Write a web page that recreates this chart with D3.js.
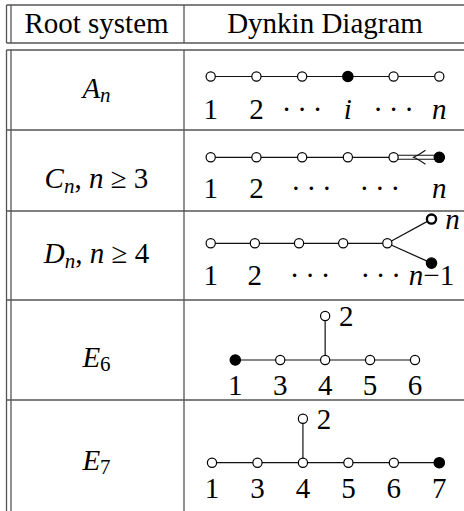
<!DOCTYPE html>
<html>
<head>
<meta charset="utf-8">
<script src="https://cdn.jsdelivr.net/npm/d3@7"></script>
<style>
  body { margin: 0; background: #fff; }
  svg { display: block; }
  text { font-family: "Liberation Serif", "Times New Roman", serif; fill: #000; white-space: pre; }
</style>
</head>
<body>
<div id="chart"></div>
<script>
// table headers
const headers = ["Root system", "Dynkin Diagram"]

// root system names as [text, style] pieces
const rowNames = [
  [["A", "it"], ["n", "subit"]],
  [["C", "it"], ["n", "subit"], [", "], ["n", "it"], [" ≥ 3"]],
  [["D", "it"], ["n", "subit"], [", "], ["n", "it"], [" ≥ 4"]],
  [["E", "it"], ["6", "sub"]],
  [["E", "it"], ["7", "sub"]]
]

const dots = "·\u2009·\u2009·"

// nodes: [slot, level]
const aNodes = [[0, 0], [1, 0], [2, 0], [3, 0], [4, 0], [5, 0]]
const aFilled = [3]
const aEdges = [[0, 1], [1, 2], [2, 3], [3, 4], [4, 5]]
const aLabels = [[0, "1"], [1, "2"], [2, dots], [3, "i"], [4, dots], [5, "n"]]

const cNodes = [[0, 0], [1, 0], [2, 0], [3, 0], [4, 0], [5, 0]]
const cFilled = [5]
const cEdges = [[0, 1], [1, 2], [2, 3], [3, 4], [4, 5, "double"]]
const cLabels = [[0, "1"], [1, "2"], [2.2, dots], [3.7, dots], [5, "n"]]

const dNodes = [[0, 0], [1, 0], [2, 0], [3, 0], [4, 0], [5, 1.1], [5, -0.9]]
const dFilled = [6]
const dBold = [5]
const dEdges = [[0, 1], [1, 2], [2, 3], [3, 4], [4, 5], [4, 6]]
const dLabels = [[0, "1"], [1, "2"], [2.25, dots], [3.85, dots], [5, "n−1"]]
const dSideLabels = [[5, "n"]]

// E6 nodes in Bourbaki order 1..6
const e6Nodes = [[0, 0], [2, 2], [1, 0], [2, 0], [3, 0], [4, 0]]
const e6Filled = [0]
const e6Edges = [[0, 2], [2, 3], [3, 4], [4, 5], [1, 3]]
const e6Labels = [[0, "1"], [1, "3"], [2, "4"], [3, "5"], [4, "6"]]
const e6SideLabels = [[1, "2"]]

// E7 nodes in Bourbaki order 1..7
const e7Nodes = [[0, 0], [2, 2], [1, 0], [2, 0], [3, 0], [4, 0], [5, 0]]
const e7Filled = [6]
const e7Edges = [[0, 2], [2, 3], [3, 4], [4, 5], [5, 6], [1, 3]]
const e7Labels = [[0, "1"], [1, "3"], [2, "4"], [3, "5"], [4, "6"], [5, "7"]]
const e7SideLabels = [[1, "2"]]

const diagrams = [
  { nodes: aNodes, filled: aFilled, bold: [], edges: aEdges, labels: aLabels, side: [] },
  { nodes: cNodes, filled: cFilled, bold: [], edges: cEdges, labels: cLabels, side: [] },
  { nodes: dNodes, filled: dFilled, bold: dBold, edges: dEdges, labels: dLabels, side: dSideLabels },
  { nodes: e6Nodes, filled: e6Filled, bold: [], edges: e6Edges, labels: e6Labels, side: e6SideLabels },
  { nodes: e7Nodes, filled: e7Filled, bold: [], edges: e7Edges, labels: e7Labels, side: e7SideLabels }
]

// layout
const W = 464, H = 511
const fontSize = 29, subSize = 21
const hRules = [5, 43, 50, 130, 211, 300, 400]
const vRules = [6.5, 11, 184]
const nameX = 96.5, diagX = 325
const nameBase = [97.5, 188, 263, 366.5, 469.5]
const chainY = [76.5, 157.3, 243.3, 360, 462.7]
const xRanges = [[210.7, 439.3], [210.7, 439.3], [210.7, 431.5], [235.3, 415], [212, 439.3]]
const slotMax = [5, 5, 5, 4, 5]
const labelDrop = [42, 41, 42, 35, 35]
const levelStep = 22
const r = 4.6

const svg = d3.select("#chart").append("svg")
  .attr("width", W)
  .attr("height", H)

// rules
svg.selectAll(".hrule")
  .data(hRules)
  .join("line")
  .attr("class", "hrule")
  .attr("x1", vRules[0]).attr("x2", W)
  .attr("y1", d => d).attr("y2", d => d)
  .attr("stroke", "#555").attr("stroke-width", 1.3)

vRules.forEach(x => {
  [[hRules[0], hRules[1]], [hRules[2], H]].forEach(([y1, y2]) => {
    svg.append("line")
      .attr("x1", x).attr("x2", x)
      .attr("y1", y1).attr("y2", y2)
      .attr("stroke", "#555").attr("stroke-width", 1.3)
  })
})

// headers
svg.selectAll(".header")
  .data(headers)
  .join("text")
  .attr("class", "header")
  .attr("x", (d, i) => i === 0 ? nameX : diagX)
  .attr("y", 33)
  .attr("text-anchor", "middle")
  .style("font-size", fontSize + "px")
  .text(d => d)

// text with italic / subscript pieces
const richText = (g, pieces, x, y) => {
  const t = g.append("text")
    .attr("x", x).attr("y", y)
    .attr("text-anchor", "middle")
    .style("font-size", fontSize + "px")
  let shift = 0
  pieces.forEach(([s, st]) => {
    const ts = t.append("tspan").text(s)
    const sub = st === "sub" || st === "subit"
    const want = sub ? 4.5 : 0
    if (want !== shift) ts.attr("dy", want - shift)
    shift = want
    if (sub) ts.style("font-size", subSize + "px")
    if (st === "it" || st === "subit") ts.style("font-style", "italic")
  })
}

// splits a label into italic letters and upright rest
const labelPieces = s => (s.match(/[a-z]+|[^a-z]+/g) || []).map(p => /[a-z]/.test(p) ? [p, "it"] : [p])

rowNames.forEach((p, i) => richText(svg, p, nameX, nameBase[i]))

diagrams.forEach((dg, i) => {
  const x = d3.scaleLinear().domain([0, slotMax[i]]).range(xRanges[i])
  const y = d3.scaleLinear().domain([0, 1]).range([chainY[i], chainY[i] - levelStep])
  const g = svg.append("g")
  const px = n => x(dg.nodes[n][0])
  const py = n => y(dg.nodes[n][1])

  dg.edges.forEach(([a, b, type]) => {
    if (type === "double") {
      [-2, 2].forEach(o => {
        g.append("line")
          .attr("x1", px(a)).attr("x2", px(b))
          .attr("y1", py(a) + o).attr("y2", py(b) + o)
          .attr("stroke", "#111").attr("stroke-width", 1.1)
      })
      const tip = px(a) + 0.435 * (px(b) - px(a))
      const yy = py(a)
      g.append("path")
        .attr("d", `M${tip + 12},${yy - 7} Q${tip + 4},${yy - 1.5} ${tip},${yy} Q${tip + 4},${yy + 1.5} ${tip + 12},${yy + 7}`)
        .attr("fill", "none").attr("stroke", "#111").attr("stroke-width", 1.1)
    } else {
      g.append("line")
        .attr("x1", px(a)).attr("x2", px(b))
        .attr("y1", py(a)).attr("y2", py(b))
        .attr("stroke", "#111").attr("stroke-width", 1.2)
    }
  })

  g.selectAll("circle")
    .data(dg.nodes)
    .join("circle")
    .attr("cx", d => x(d[0]))
    .attr("cy", d => y(d[1]))
    .attr("r", (d, k) => dg.filled.includes(k) ? r + 0.6 : r)
    .attr("fill", (d, k) => dg.filled.includes(k) ? "#000" : "#fff")
    .attr("stroke", "#000")
    .attr("stroke-width", (d, k) => dg.bold.includes(k) ? 2.3 : 1.2)

  dg.labels.forEach(([slot, s]) => richText(g, labelPieces(s), x(slot), chainY[i] + labelDrop[i]))

  dg.side.forEach(([n, s]) => {
    const t = g.append("text")
      .attr("x", px(n) + 21)
      .attr("y", py(n) + 10)
      .attr("text-anchor", "middle")
      .style("font-size", fontSize + "px")
      .text(s)
    if (/[a-z]/.test(s)) t.style("font-style", "italic")
  })
})
</script>
</body>
</html>
